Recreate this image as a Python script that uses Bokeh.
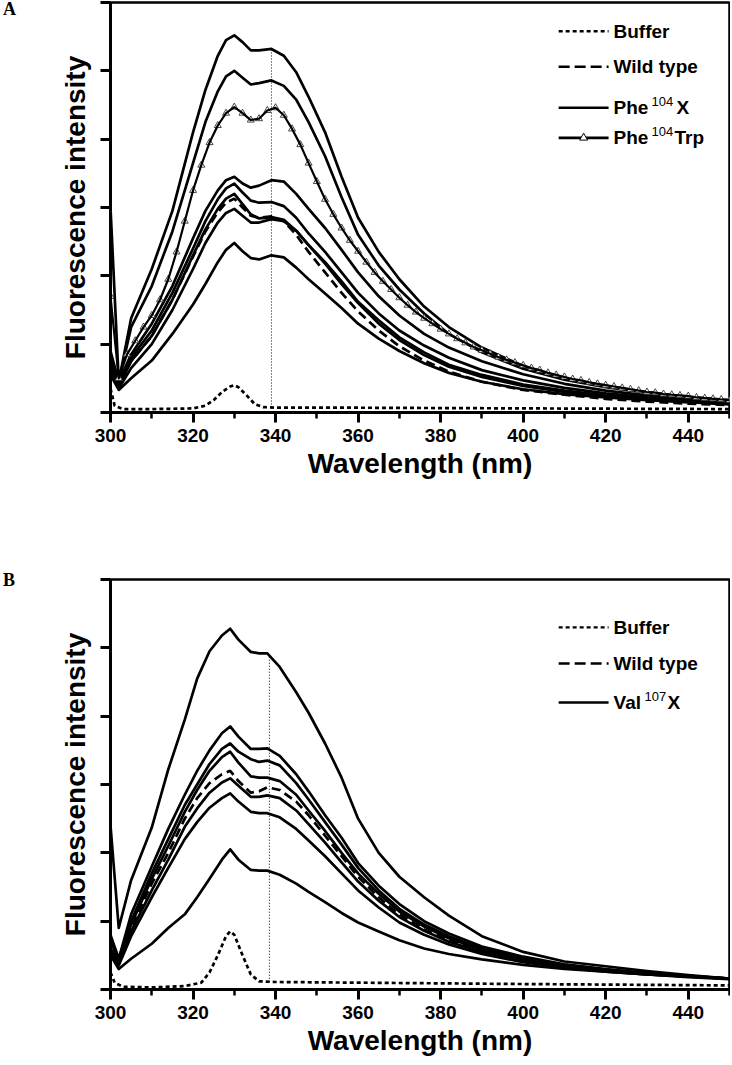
import numpy as np
from bokeh.plotting import figure
from bokeh.models import Range1d, FixedTicker, CustomJSTickFormatter, Div
from bokeh.layouts import column, row
from bokeh.embed import file_html
from bokeh.resources import INLINE
from bokeh.core.properties import value

# ---------------- data : panel A ----------------
wl_a = [300, 302, 305, 310, 315, 320, 323, 326, 328, 330, 332, 334, 336, 339, 342,
        345, 348, 352, 356, 360, 365, 370, 376, 382, 390, 400, 410, 420, 430, 440, 450]
phe_a1 = [3.0, 0.45, 1.38, 2.1, 2.95, 4.1, 4.72, 5.22, 5.45, 5.52, 5.42, 5.3, 5.3, 5.32, 5.22,
          4.98, 4.62, 4.1, 3.45, 2.85, 2.35, 1.95, 1.55, 1.25, 0.95, 0.68, 0.5, 0.39, 0.3, 0.23, 0.18]
phe_a2 = [0.9, 0.45, 1.25, 1.85, 2.65, 3.65, 4.25, 4.7, 4.92, 5.0, 4.9, 4.8, 4.82, 4.86, 4.78,
          4.58, 4.25, 3.75, 3.15, 2.6, 2.15, 1.8, 1.45, 1.15, 0.88, 0.64, 0.48, 0.37, 0.29, 0.22, 0.17]
phe_a4 = [0.8, 0.45, 0.85, 1.3, 1.85, 2.55, 2.95, 3.25, 3.4, 3.45, 3.35, 3.29, 3.32, 3.4, 3.38,
          3.2, 2.98, 2.7, 2.38, 2.05, 1.7, 1.42, 1.15, 0.95, 0.75, 0.56, 0.42, 0.32, 0.25, 0.2, 0.16]
phe_a5 = [0.75, 0.4, 0.8, 1.2, 1.75, 2.4, 2.8, 3.12, 3.28, 3.35, 3.22, 3.1, 3.07, 3.08, 3.02,
          2.85, 2.62, 2.35, 2.05, 1.75, 1.45, 1.2, 0.98, 0.8, 0.62, 0.47, 0.36, 0.28, 0.22, 0.18, 0.14]
phe_a6 = [0.7, 0.38, 0.75, 1.12, 1.65, 2.3, 2.68, 2.98, 3.13, 3.2, 3.05, 2.9, 2.84, 2.86, 2.82,
          2.66, 2.45, 2.2, 1.92, 1.62, 1.35, 1.1, 0.88, 0.7, 0.55, 0.41, 0.32, 0.25, 0.2, 0.16, 0.13]
phe_a7 = [0.6, 0.35, 0.65, 1.0, 1.5, 2.1, 2.48, 2.78, 2.92, 2.98, 2.88, 2.78, 2.78, 2.83, 2.8,
          2.66, 2.45, 2.18, 1.88, 1.6, 1.3, 1.06, 0.84, 0.67, 0.52, 0.39, 0.3, 0.24, 0.19, 0.15, 0.12]
phe_a8 = [0.55, 0.33, 0.5, 0.76, 1.15, 1.58, 1.88, 2.2, 2.38, 2.48, 2.36, 2.26, 2.24, 2.3, 2.27,
          2.12, 1.95, 1.74, 1.53, 1.3, 1.08, 0.9, 0.72, 0.58, 0.45, 0.34, 0.27, 0.22, 0.18, 0.15, 0.13]
wild_a = [0.7, 0.4, 0.75, 1.12, 1.65, 2.28, 2.65, 2.93, 3.07, 3.13, 3.0, 2.88, 2.85, 2.87, 2.8,
          2.6, 2.35, 2.05, 1.75, 1.48, 1.2, 0.97, 0.76, 0.6, 0.45, 0.33, 0.26, 0.2, 0.16, 0.13, 0.11]
phe_x_series_a = [phe_a1, phe_a2, phe_a4, phe_a5, phe_a6, phe_a7, phe_a8]

wl_trp = list(range(300, 452, 2))
trp_a = [1.7, 0.5, 0.85, 1.05, 1.25, 1.42, 1.65, 1.95, 2.35, 2.8, 3.25, 3.62, 3.95, 4.2, 4.38,
         4.47, 4.38, 4.28, 4.3, 4.42, 4.46, 4.35, 4.15, 3.92, 3.65, 3.38, 3.12, 2.9, 2.7, 2.52,
         2.36, 2.2, 2.05, 1.92, 1.8, 1.68, 1.57, 1.47, 1.38, 1.3, 1.22, 1.15, 1.08, 1.02, 0.96,
         0.91, 0.86, 0.81, 0.77, 0.73, 0.69, 0.65, 0.62, 0.58, 0.55, 0.52, 0.49, 0.47, 0.44, 0.42,
         0.4, 0.38, 0.36, 0.34, 0.32, 0.3, 0.29, 0.27, 0.26, 0.25, 0.24, 0.22, 0.21, 0.2, 0.19, 0.18]

wl_buf_a = [300, 301, 303, 310, 320, 323, 325, 327, 329, 330, 331, 333, 335, 337, 340, 360, 400, 450]
buffer_a = [0.35, 0.1, 0.05, 0.05, 0.06, 0.1, 0.18, 0.3, 0.38, 0.4, 0.37, 0.25, 0.12, 0.08, 0.07, 0.07, 0.06, 0.05]

# ---------------- data : panel B ----------------
wl_b = [300, 302, 305, 310, 314, 318, 321, 324, 327, 329, 331, 334, 336, 338, 341,
        345, 348, 352, 356, 360, 365, 370, 376, 382, 390, 400, 410, 420, 430, 440, 450]
val_b1 = [2.4, 0.9, 1.6, 2.37, 3.22, 3.95, 4.55, 4.95, 5.18, 5.28, 5.12, 4.94, 4.92, 4.92, 4.72,
          4.35, 4.05, 3.6, 3.1, 2.5, 2.0, 1.65, 1.35, 1.08, 0.78, 0.55, 0.41, 0.34, 0.27, 0.21, 0.16]
val_b2 = [0.8, 0.45, 1.1, 1.8, 2.35, 2.85, 3.2, 3.5, 3.75, 3.85, 3.7, 3.52, 3.52, 3.53, 3.42,
          3.15, 2.9, 2.55, 2.22, 1.85, 1.52, 1.25, 1.0, 0.82, 0.63, 0.48, 0.37, 0.3, 0.24, 0.2, 0.16]
val_b3 = [0.75, 0.45, 1.0, 1.7, 2.2, 2.7, 3.0, 3.3, 3.52, 3.6, 3.48, 3.37, 3.33, 3.35, 3.28,
          3.02, 2.78, 2.45, 2.12, 1.78, 1.45, 1.18, 0.95, 0.78, 0.6, 0.46, 0.36, 0.29, 0.24, 0.2, 0.16]
val_b4 = [0.7, 0.45, 0.95, 1.62, 2.1, 2.6, 2.92, 3.2, 3.4, 3.48, 3.32, 3.12, 3.1, 3.1, 3.05,
          2.85, 2.62, 2.32, 2.0, 1.7, 1.4, 1.14, 0.92, 0.75, 0.58, 0.45, 0.35, 0.28, 0.23, 0.19, 0.16]
val_b5 = [0.6, 0.4, 0.85, 1.45, 1.9, 2.38, 2.65, 2.88, 3.03, 3.09, 2.98, 2.82, 2.82, 2.84, 2.8,
          2.62, 2.42, 2.15, 1.86, 1.58, 1.3, 1.06, 0.86, 0.7, 0.55, 0.42, 0.33, 0.27, 0.22, 0.19, 0.16]
val_b6 = [0.55, 0.35, 0.78, 1.35, 1.78, 2.2, 2.45, 2.66, 2.8, 2.87, 2.75, 2.6, 2.58, 2.58, 2.52,
          2.35, 2.18, 1.95, 1.7, 1.45, 1.2, 0.98, 0.8, 0.66, 0.52, 0.4, 0.32, 0.26, 0.22, 0.18, 0.15]
val_b7 = [0.5, 0.3, 0.45, 0.67, 0.9, 1.1, 1.35, 1.62, 1.9, 2.05, 1.9, 1.75, 1.74, 1.74, 1.68,
          1.55, 1.43, 1.28, 1.12, 0.98, 0.85, 0.72, 0.6, 0.52, 0.44, 0.36, 0.3, 0.26, 0.22, 0.19, 0.16]
wild_b = [0.6, 0.4, 0.9, 1.55, 2.0, 2.5, 2.8, 3.02, 3.15, 3.2, 3.05, 2.88, 2.9, 2.96, 2.92,
          2.75, 2.55, 2.25, 1.95, 1.65, 1.35, 1.1, 0.88, 0.72, 0.56, 0.43, 0.34, 0.28, 0.23, 0.19, 0.16]
val_x_series_b = [val_b1, val_b2, val_b3, val_b4, val_b5, val_b6, val_b7]

wl_buf_b = [300, 301, 303, 310, 318, 322, 324, 326, 328, 329, 330, 332, 334, 336, 340, 360, 400, 450]
buffer_b = [0.25, 0.1, 0.04, 0.03, 0.05, 0.1, 0.25, 0.5, 0.78, 0.85, 0.8, 0.5, 0.22, 0.12, 0.11, 0.1, 0.08, 0.06]

# ---------------- axis ticks / texts ----------------
x_major_ticks = [300, 320, 340, 360, 380, 400, 420, 440]
x_minor_ticks = [310, 330, 350, 370, 390, 410, 430, 450]
y_ticks = [0, 1, 2, 3, 4, 5, 6]
x_label = "Wavelength (nm)"
y_label = "Fluorescence intensity"
marker_nm_a = 339.0
marker_nm_b = 338.5

SANS = "Liberation Sans"
LW = 2.7


def make_panel(height, b_top, b_bottom):
    p = figure(width=710, height=height, x_range=Range1d(300, 450), y_range=Range1d(0, 6),
               output_backend="svg", toolbar_location=None,
               min_border_left=90, min_border_right=1,
               min_border_top=b_top, min_border_bottom=b_bottom)
    p.margin = 0
    p.grid.visible = False
    p.outline_line_color = "black"
    p.outline_line_width = 2.5
    p.outline_line_alpha = 1.0
    p.background_fill_color = "white"
    p.border_fill_color = "white"

    xa = p.xaxis[0]
    xa.ticker = FixedTicker(ticks=x_major_ticks, minor_ticks=x_minor_ticks)
    xa.axis_line_width = 3
    xa.major_tick_line_width = 3
    xa.minor_tick_line_width = 2.5
    xa.major_tick_out = 10
    xa.major_tick_in = 0
    xa.minor_tick_out = 6
    xa.minor_tick_in = 0
    xa.major_label_text_font = SANS
    xa.major_label_text_font_style = "bold"
    xa.major_label_text_font_size = "19px"
    xa.major_label_text_color = "black"
    xa.major_label_standoff = 6
    xa.axis_label = x_label
    xa.axis_label_text_font = SANS
    xa.axis_label_text_font_style = "bold"
    xa.axis_label_text_font_size = "28px"
    xa.axis_label_text_color = "black"
    xa.axis_label_standoff = 3

    ya = p.yaxis[0]
    ya.ticker = FixedTicker(ticks=y_ticks, minor_ticks=[])
    ya.formatter = CustomJSTickFormatter(code="return ''")
    ya.axis_line_width = 3
    ya.major_tick_line_width = 3
    ya.major_tick_out = 10
    ya.major_tick_in = 0
    ya.minor_tick_out = 0
    ya.major_label_standoff = 0
    ya.axis_label = y_label
    ya.axis_label_text_font = SANS
    ya.axis_label_text_font_style = "bold"
    ya.axis_label_text_font_size = "28px"
    ya.axis_label_text_color = "black"
    ya.axis_label_standoff = 10
    return p


sup_offsets = {"104": (38, 63), "107": (31, 54)}
tail_offset_trp = 61


def legend_rows(p, rows):
    # legend layout (positions in data units of the fixed ranges)
    lx0, lx1, tx = 408.6, 420.7, 421.9
    for kind, label, sup, tail, ry in rows:
        if kind == "buffer":
            p.line([lx0, lx1], [ry, ry], line_color="black", line_width=2.4, line_dash="4 3")
        elif kind == "wild":
            p.line([lx0, lx1], [ry, ry], line_color="black", line_width=2.4, line_dash="11 5")
        else:
            p.line([lx0, lx1], [ry, ry], line_color="black", line_width=2.7)
            if kind == "trp":
                p.scatter([(lx0 + lx1) / 2], [ry], marker="triangle", size=8,
                          fill_color="white", line_color="black", line_width=1)
        p.text([tx], [ry], text=[label], text_font=value(SANS), text_font_style="bold",
               text_font_size="19px", text_baseline="middle", text_align="left", text_color="black")
        if sup:
            s_off, t_off = sup_offsets[sup]
            if tail == "Trp":
                t_off = tail_offset_trp
            p.text([tx], [ry], text=[sup], x_offset=s_off, y_offset=-6, text_font=value(SANS),
                   text_font_style="normal", text_font_size="13px", text_baseline="middle",
                   text_align="left", text_color="black")
            p.text([tx], [ry], text=[tail], x_offset=t_off, text_font=value(SANS),
                   text_font_style="bold", text_font_size="19px", text_baseline="middle",
                   text_align="left", text_color="black")


def panel_letter(letter):
    return Div(text=letter, width=20, height=24, margin=0,
               styles={"font-family": "Liberation Serif", "font-weight": "bold",
                       "font-size": "18px", "line-height": "18px", "color": "black",
                       "padding-top": "0px", "padding-left": "3px"})


# ---------------- panel A ----------------
pA = make_panel(571, 2, 159)
for ys in phe_x_series_a:
    pA.line(wl_a, ys, line_color="black", line_width=LW, line_join="round")
pA.line(wl_a, wild_a, line_color="black", line_width=LW, line_dash="9 5")
pA.scatter(wl_trp, trp_a, marker="triangle", size=7, fill_color="white",
           line_color="#333333", line_width=0.9)
pA.line(wl_trp, trp_a, line_color="black", line_width=2.2, line_join="round")
pA.line(wl_buf_a, buffer_a, line_color="black", line_width=LW, line_dash="4 3")
pA.segment(x0=[marker_nm_a], y0=[float(np.interp(marker_nm_a, wl_buf_a, buffer_a))],
           x1=[marker_nm_a], y1=[float(np.interp(marker_nm_a, wl_a, phe_a1))],
           line_color="black", line_width=1, line_dash="1 2")
legend_rows(pA, [("buffer", "Buffer", None, None, 5.58),
                 ("wild", "Wild type", None, None, 5.06),
                 ("solid", "Phe", "104", "X", 4.46),
                 ("trp", "Phe", "104", "Trp", 4.02)])

# ---------------- panel B ----------------
pB = make_panel(490, 8, 72)
for ys in val_x_series_b:
    pB.line(wl_b, ys, line_color="black", line_width=LW, line_join="round")
pB.line(wl_b, wild_b, line_color="black", line_width=LW, line_dash="9 5")
pB.line(wl_buf_b, buffer_b, line_color="black", line_width=LW, line_dash="4 3")
pB.segment(x0=[marker_nm_b], y0=[float(np.interp(marker_nm_b, wl_buf_b, buffer_b))],
           x1=[marker_nm_b], y1=[float(np.interp(marker_nm_b, wl_b, val_b1))],
           line_color="black", line_width=1, line_dash="1 2")
legend_rows(pB, [("buffer", "Buffer", None, None, 5.30),
                 ("wild", "Wild type", None, None, 4.77),
                 ("solid", "Val", "107", "X", 4.20)])

rowA = row(panel_letter("A"), pA, margin=0, spacing=0)
rowB = row(panel_letter("B"), pB, margin=0, spacing=0)
layout = column(rowA, rowB, margin=0, spacing=0)
open("out.html", "w").write(file_html(layout, INLINE))
